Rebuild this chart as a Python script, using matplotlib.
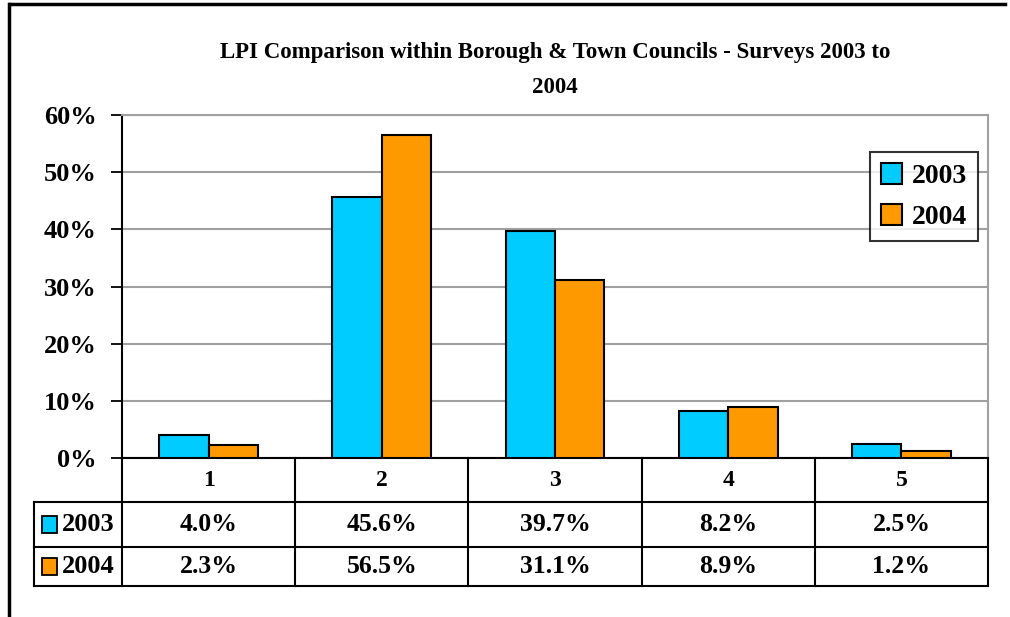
import numpy as np
import matplotlib.pyplot as plt
from matplotlib.patches import Rectangle
from matplotlib.transforms import blended_transform_factory

plt.rcParams['font.family'] = ['Liberation Serif', 'DejaVu Serif']
plt.rcParams['font.weight'] = 'bold'

# Survey results per LPI band
categories = ['1', '2', '3', '4', '5']
series_names = ['2003', '2004']
values_2003 = [4.0, 45.6, 39.7, 8.2, 2.5]
values_2004 = [2.3, 56.5, 31.1, 8.9, 1.2]
yticks = [0, 10, 20, 30, 40, 50, 60]

colors = ['#00CCFF', '#FF9900']
W, H = 1010, 617

fig = plt.figure(figsize=(W / 100, H / 100), dpi=100)
ax = fig.add_axes([122 / W, 1 - 458 / H, (988 - 122) / W, (458 - 115) / H])

x = np.arange(len(categories))
bw = 1 / 3.5
series = [values_2003, values_2004]
for i, (name, vals) in enumerate(zip(series_names, series)):
    ax.bar(x + (i - 0.5) * bw, vals, width=bw, color=colors[i],
           edgecolor='black', linewidth=1.5, label=name, zorder=3)

ax.set_xlim(-0.5, len(categories) - 0.5)
ax.set_ylim(0, 60)
ax.set_yticks(yticks)
ax.set_yticklabels([f'{t}%' for t in yticks], fontsize=19, fontweight='bold')
ax.tick_params(axis='y', direction='out', length=8, width=1.3, pad=10)
ax.set_xticks([])
ax.yaxis.grid(True, color='#A0A0A0', linewidth=1.5, zorder=0)
ax.set_axisbelow(True)
for side in ['top', 'right']:
    ax.spines[side].set_color('#A0A0A0')
    ax.spines[side].set_linewidth(1.5)
for side in ['left', 'bottom']:
    ax.spines[side].set_linewidth(1.5)

ax.set_title('LPI Comparison within Borough & Town Councils - Surveys 2003 to\n2004',
             fontsize=16.5, fontweight='bold', pad=16, linespacing=1.85)

leg = ax.legend(loc='upper right', bbox_to_anchor=(0.9885, 0.892),
                prop={'size': 20, 'weight': 'bold'},
                frameon=True, fancybox=False, edgecolor='black', handlelength=0.75,
                handleheight=0.75, handletextpad=0.35, labelspacing=0.55,
                borderpad=0.4, borderaxespad=0)
leg.get_frame().set_linewidth(1.5)

# Data table under the plot
tr = blended_transform_factory(ax.transData, ax.transAxes)
ax_h = 458 - 115
rows = [0, -44 / ax_h, -89 / ax_h, -128 / ax_h]
x_left = -0.5 - 88 / 173.2
lw = 1.5
for b in np.arange(len(categories) + 1) - 0.5:
    ax.plot([b, b], [rows[0], rows[3]], color='black', lw=lw, transform=tr, clip_on=False)
ax.plot([x_left, x_left], [rows[1], rows[3]], color='black', lw=lw, transform=tr, clip_on=False)
for r in rows[1:]:
    ax.plot([x_left, len(categories) - 0.5], [r, r], color='black', lw=lw,
            transform=tr, clip_on=False)

for i, c in enumerate(categories):
    ax.text(i, (rows[0] + rows[1]) / 2, c, ha='center', va='center',
            fontsize=17, fontweight='bold', transform=tr)
for k, (name, vals) in enumerate(zip(series_names, series)):
    yc = (rows[k + 1] + rows[k + 2]) / 2
    for i, v in enumerate(vals):
        ax.text(i, yc, f'{v:.1f}%', ha='center', va='center', fontsize=18.5,
                fontweight='bold', transform=tr)
    ax.add_patch(Rectangle((x_left + 0.045, yc - 0.024), 0.09, 0.048, transform=tr,
                           facecolor=colors[k], edgecolor='black', lw=1.3, clip_on=False))
    ax.text(x_left + 0.16, yc, name, ha='left', va='center', fontsize=19,
            fontweight='bold', transform=tr)

# Chart frame (top and left edges)
fig.add_artist(plt.Line2D([10 / W, 1005 / W], [1 - 4 / H, 1 - 4 / H], color='black',
                          lw=2.5, transform=fig.transFigure))
fig.add_artist(plt.Line2D([9 / W, 9 / W], [0, 1 - 4 / H], color='black',
                          lw=2.5, transform=fig.transFigure))

fig.savefig('out.png', dpi=100)
